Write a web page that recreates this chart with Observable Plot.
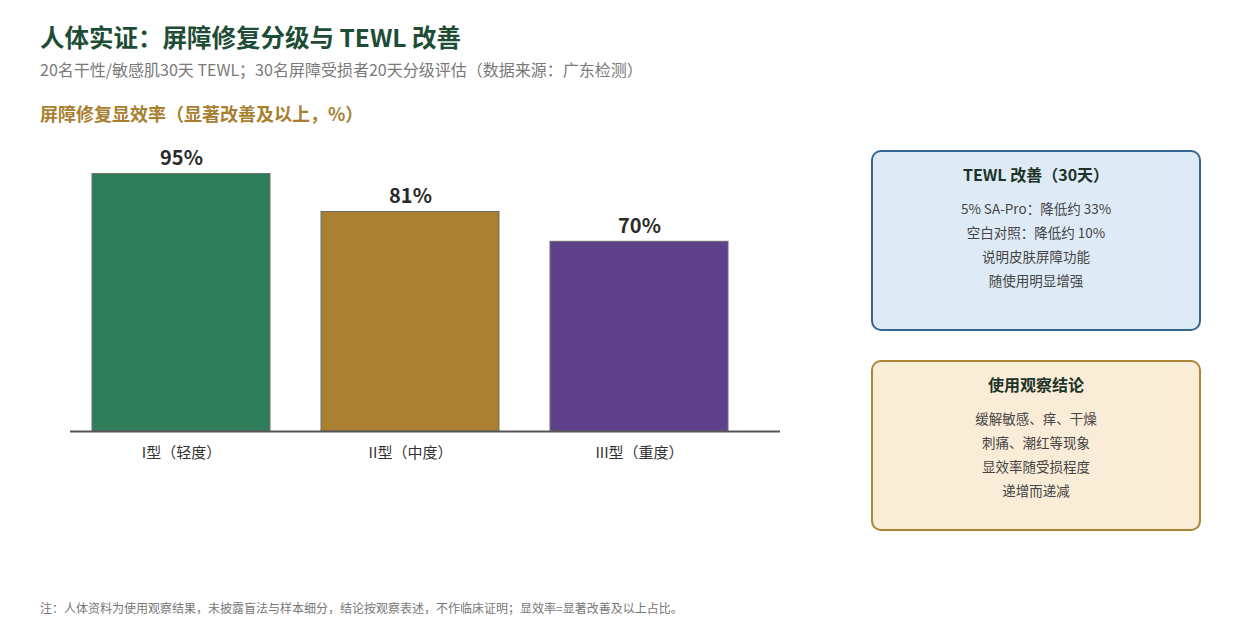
<!DOCTYPE html>
<html><head><meta charset="utf-8">
<script src="https://cdn.jsdelivr.net/npm/d3@7"></script>
<script src="https://cdn.jsdelivr.net/npm/@observablehq/plot@0.6"></script>
<style>
body{margin:0;background:#fff;font-family:"Noto Sans CJK SC","Noto Sans",sans-serif;}
#wrap{position:relative;width:1240px;height:640px;overflow:hidden;}
.t{position:absolute;white-space:nowrap;}
#title{left:40px;top:19px;font-size:24.5px;font-weight:700;color:#1e4d36;}
#sub{left:40px;top:57px;font-size:16px;color:#7a7a7a;}
#sec{left:40px;top:100px;font-size:18px;font-weight:700;color:#a88030;}
#note{left:40px;top:599px;font-size:12px;color:#777;}
#chart{position:absolute;left:0;top:140px;}
.box{position:absolute;left:871px;width:330px;border-radius:10px;box-sizing:border-box;text-align:center;}
.box h3{margin:0;font-size:16px;font-weight:700;color:#1c3327;padding-top:11px;line-height:22px;}
.box p{margin:0;font-size:13.5px;color:#444;line-height:24px;}
.box .lines{margin-top:11px;}
#b1{top:150px;height:181px;background:#deebf6;border:2px solid #336690;}
#b2{top:360px;height:171px;background:#faedd7;border:2px solid #ad8434;}
</style></head>
<body><div id="wrap">
<div class="t" id="title">人体实证：屏障修复分级与 TEWL 改善</div>
<div class="t" id="sub">20名干性/敏感肌30天 TEWL；30名屏障受损者20天分级评估（数据来源：广东检测）</div>
<div class="t" id="sec">屏障修复显效率（显著改善及以上，%）</div>
<div id="chart"></div>
<div class="box" id="b1"><h3 id="b1t"></h3><div class="lines" id="b1l"></div></div>
<div class="box" id="b2"><h3 id="b2t"></h3><div class="lines" id="b2l"></div></div>
<div class="t" id="note">注：人体资料为使用观察结果，未披露盲法与样本细分，结论按观察表述，不作临床证明；显效率=显著改善及以上占比。</div>
</div>
<script>
const categories = ["I型（轻度）", "II型（中度）", "III型（重度）"];
const values = [95, 81, 70];
const colors = ["#2e7d5b", "#a88030", "#5f408a"];
const panel1Title = "TEWL 改善（30天）";
const panel1Lines = ["5% SA-Pro：降低约 33%", "空白对照：降低约 10%", "说明皮肤屏障功能", "随使用明显增强"];
const panel2Title = "使用观察结论";
const panel2Lines = ["缓解敏感、痒、干燥", "刺痛、潮红等现象", "显效率随受损程度", "递增而递减"];

const data = categories.map((c, i) => ({cat: c, v: values[i], color: colors[i]}));

const chart = Plot.plot({
  width: 800,
  height: 330,
  marginLeft: 70,
  marginRight: 20,
  marginTop: 20,
  marginBottom: 39,
  style: {fontFamily: '"Noto Sans CJK SC","Noto Sans",sans-serif', background: "transparent"},
  x: {domain: categories, paddingInner: 0.222, paddingOuter: 0.1545, align: 0.296, label: null},
  y: {domain: [0, 100], axis: null},
  marks: [
    Plot.barY(data, {x: "cat", y: "v", fill: "color", stroke: "#6e6e6e", strokeWidth: 1}),
    Plot.text(data, {x: "cat", y: "v", text: d => d.v + "%", dy: -15, fontSize: 20, fontWeight: 700, fill: "#2a2a2a"}),
    Plot.ruleY([0], {stroke: "#555", strokeWidth: 2}),
    Plot.axisX({tickSize: 0, tickPadding: 16, fontSize: 15, color: "#333", label: null})
  ]
});
document.getElementById("chart").appendChild(chart);

document.getElementById("b1t").textContent = panel1Title;
document.getElementById("b2t").textContent = panel2Title;
for (const [id, lines] of [["b1l", panel1Lines], ["b2l", panel2Lines]]) {
  const el = document.getElementById(id);
  for (const l of lines) { const p = document.createElement("p"); p.textContent = l; el.appendChild(p); }
}
</script>
</body></html>
